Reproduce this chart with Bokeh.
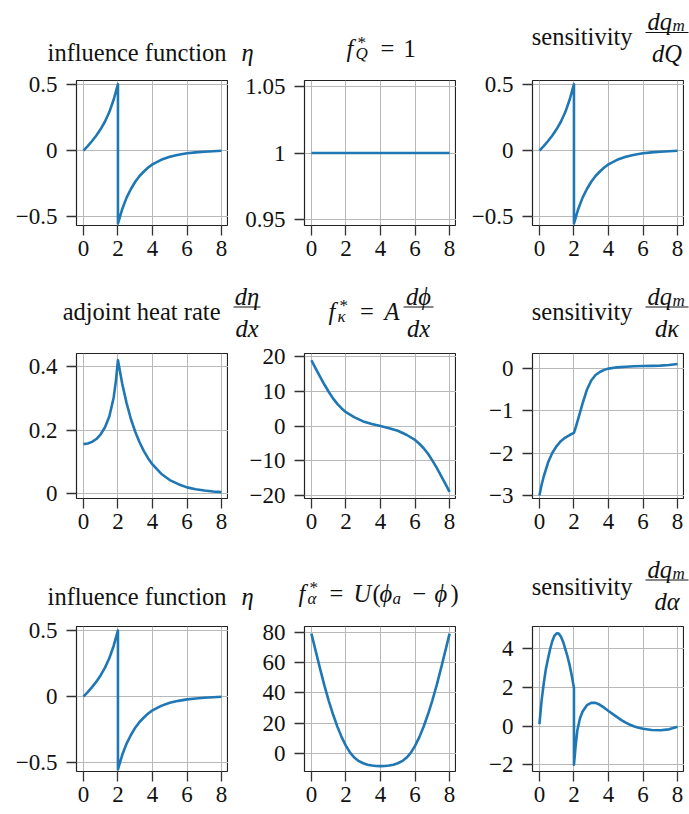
from bokeh.plotting import figure
from bokeh.layouts import column, row
from bokeh.models import Label, FixedTicker, Range1d
from bokeh.embed import file_html
from bokeh.resources import INLINE

# ---------------- data ----------------
X_TICKS = [0, 2, 4, 6, 8]
X_TICK_LABELS = ["0", "2", "4", "6", "8"]

# influence function eta (jump at the sensor position x = 2)
ETA_X = [0, 0.25, 0.5, 0.75, 1, 1.25, 1.5, 1.75, 2, 2, 2.25, 2.5, 2.75, 3,
         3.25, 3.5, 3.75, 4, 4.5, 5, 5.5, 6, 6.5, 7, 7.5, 8]
ETA_Y = [0, 0.034, 0.072, 0.113, 0.162, 0.219, 0.29, 0.383, 0.5, -0.55,
         -0.44, -0.355, -0.29, -0.235, -0.192, -0.158, -0.128, -0.104,
         -0.07, -0.047, -0.032, -0.021, -0.014, -0.009, -0.005, -0.001]
ETA_YTICKS = [-0.5, 0, 0.5]
ETA_YLABELS = ["\u22120.5", "0", "0.5"]

# source term for Q
FQ_X = [0, 8]
FQ_Y = [1, 1]
FQ_YTICKS = [0.95, 1, 1.05]
FQ_YLABELS = ["0.95", "1", "1.05"]

# adjoint heat rate d(eta)/dx
DETA_X = [0, 0.25, 0.5, 0.75, 1, 1.25, 1.5, 1.75, 1.875, 2, 2.25, 2.5, 2.75,
          3, 3.25, 3.5, 3.75, 4, 4.5, 5, 5.5, 6, 6.5, 7, 7.5, 8]
DETA_Y = [0.156, 0.158, 0.163, 0.172, 0.187, 0.209, 0.243, 0.302, 0.352,
          0.42, 0.345, 0.285, 0.235, 0.195, 0.162, 0.134, 0.111, 0.092,
          0.063, 0.043, 0.03, 0.02, 0.014, 0.01, 0.007, 0.005]
DETA_YTICKS = [0, 0.2, 0.4]
DETA_YLABELS = ["0", "0.2", "0.4"]

# source term for kappa
FK_X = [0, 0.25, 0.5, 0.75, 1, 1.25, 1.5, 1.75, 2, 2.5, 3, 3.5, 4, 4.5, 5,
        5.5, 6, 6.25, 6.5, 6.75, 7, 7.25, 7.5, 7.75, 8]
FK_Y = [19, 16.6, 14.3, 12.0, 9.9, 8.0, 6.4, 5.1, 4.0, 2.5, 1.35, 0.6, 0,
        -0.6, -1.35, -2.5, -4.0, -5.1, -6.4, -8.0, -9.9, -12.0, -14.3,
        -16.6, -19]
FK_YTICKS = [-20, -10, 0, 10, 20]
FK_YLABELS = ["\u221220", "\u221210", "0", "10", "20"]

# sensitivity with respect to kappa
DQK_X = [0, 0.125, 0.25, 0.5, 0.75, 1, 1.25, 1.5, 1.75, 2, 2.125, 2.25, 2.5,
         2.75, 3, 3.25, 3.5, 3.75, 4, 4.5, 5, 5.5, 6, 6.5, 7, 7.5, 8]
DQK_Y = [-3.0, -2.75, -2.55, -2.22, -1.99, -1.83, -1.71, -1.63, -1.57,
         -1.52, -1.36, -1.18, -0.82, -0.5, -0.28, -0.15, -0.08, -0.03, 0.0,
         0.03, 0.045, 0.055, 0.06, 0.065, 0.07, 0.085, 0.11]
DQK_YTICKS = [-3, -2, -1, 0]
DQK_YLABELS = ["\u22123", "\u22122", "\u22121", "0"]

# source term for alpha
FA_X = [0, 0.25, 0.5, 0.75, 1, 1.25, 1.5, 1.75, 2, 2.25, 2.5, 2.75, 3,
        3.25, 3.5, 3.75, 4, 4.25, 4.5, 4.75, 5, 5.25, 5.5, 5.75, 6, 6.25,
        6.5, 6.75, 7, 7.25, 7.5, 7.75, 8]
FA_Y = [79, 67.5, 56, 45, 35, 26, 18, 11, 5.2, 0.6, -2.6, -4.8, -6.2, -7.1,
        -7.65, -7.95, -8.05, -7.95, -7.65, -7.1, -6.2, -4.8, -2.6, 0.6, 5.2,
        11, 18, 26, 35, 45, 56, 67.5, 79]
FA_YTICKS = [0, 20, 40, 60, 80]
FA_YLABELS = ["0", "20", "40", "60", "80"]

# sensitivity with respect to alpha
DQA_X = [0, 0.125, 0.25, 0.375, 0.5, 0.625, 0.75, 0.875, 1, 1.125, 1.25,
         1.375, 1.5, 1.625, 1.75, 1.875, 2, 2, 2.1, 2.2, 2.35, 2.5, 2.75, 3,
         3.25, 3.5, 3.75, 4, 4.25, 4.5, 4.75, 5, 5.25, 5.5, 5.75, 6, 6.5, 7,
         7.5, 8]
DQA_Y = [0.1, 1.3, 2.2, 2.95, 3.5, 4.0, 4.4, 4.68, 4.8, 4.78, 4.62, 4.35,
         3.98, 3.6, 3.15, 2.6, 1.97, -2.0, -1.0, -0.2, 0.4, 0.75, 1.08, 1.2,
         1.2, 1.1, 0.95, 0.78, 0.62, 0.46, 0.31, 0.18, 0.07, -0.02, -0.09,
         -0.14, -0.2, -0.22, -0.17, -0.03]
DQA_YTICKS = [-2, 0, 2, 4]
DQA_YLABELS = ["\u22122", "0", "2", "4"]

# ---------------- styling ----------------
FONT = "Liberation Serif"
BLUE = "#1f77b4"
INK = "#111111"
PANEL_W = 228
FRAME_W, FRAME_H = 152, 145
BORDER_L = 76
PLOT_TOP = 12          # room above each frame for the top tick label
STRIP_H = 68           # height of the title strip above each row
X_LIMITS = (-0.4, 8.4)
TICK_SIZE = 23
MAIN = 24.5
SMALL = 17
NUM_UP = 11            # numerator baseline above a fraction bar
DEN_DOWN = 21          # denominator baseline below a fraction bar


def panel(xs, ys, y_limits, y_ticks, y_labels, bottom=48):
    p = figure(width=PANEL_W, height=PLOT_TOP + FRAME_H + bottom,
               x_range=Range1d(*X_LIMITS), y_range=Range1d(*y_limits),
               output_backend="svg", toolbar_location=None, tools="",
               min_border_left=BORDER_L, min_border_right=0,
               min_border_top=PLOT_TOP, min_border_bottom=bottom)
    p.line(xs, ys, line_color=BLUE, line_width=2.6, line_join="round")
    p.xaxis.ticker = FixedTicker(ticks=X_TICKS)
    p.xaxis.major_label_overrides = dict(zip(X_TICKS, X_TICK_LABELS))
    p.yaxis.ticker = FixedTicker(ticks=y_ticks)
    p.yaxis.major_label_overrides = dict(zip(y_ticks, y_labels))
    for ax in (p.xaxis[0], p.yaxis[0]):
        ax.axis_line_color = None
        ax.major_tick_in = 0
        ax.major_tick_out = 10
        ax.major_tick_line_color = "#333333"
        ax.major_tick_line_width = 1.3
        ax.minor_tick_line_color = None
        ax.major_label_text_font = FONT
        ax.major_label_text_font_size = f"{TICK_SIZE}px"
        ax.major_label_text_color = INK
    p.xaxis.major_label_standoff = 5
    p.yaxis.major_label_standoff = 9
    p.grid.grid_line_color = "#b8b8b8"
    p.grid.grid_line_width = 1
    p.outline_line_color = "#222222"
    p.outline_line_width = 1.2
    p.border_fill_color = "white"
    return p


def strip():
    """A blank strip holding the three panel titles of one row.
    x runs in pixels from the left edge, y in pixels above the frame tops."""
    t = figure(width=689, height=STRIP_H,
               x_range=Range1d(0, 689), y_range=Range1d(PLOT_TOP, PLOT_TOP + STRIP_H),
               output_backend="svg", toolbar_location=None, tools="",
               x_axis_location=None, y_axis_location=None,
               min_border=0, min_border_left=0, min_border_right=0,
               min_border_top=0, min_border_bottom=0)
    t.grid.visible = False
    t.outline_line_color = None
    return t


def text(t, col, s, dx, dy, size=MAIN, italic=False, align="left"):
    """Title text dx px right of the column's frame edge, baseline dy px
    above the frame top."""
    t.add_layout(Label(x=col * PANEL_W + BORDER_L + dx, y=dy, text=s,
                       text_font=FONT, text_font_size=f"{size}px",
                       text_font_style="italic" if italic else "normal",
                       text_align=align, text_baseline="alphabetic",
                       text_color=INK))


def bar(t, col, x0, x1, dy):
    left = col * PANEL_W + BORDER_L
    t.segment(x0=[left + x0], y0=[dy], x1=[left + x1], y1=[dy],
              line_color=INK, line_width=1.2)


def eta_title(t, col, base):
    text(t, col, "influence function", 150, base, align="right")
    text(t, col, "\u03b7", 165, base, italic=True)


def sens_title(t, col, base, bar_y, denom):
    text(t, col, "sensitivity", 100, base, align="right")
    bar(t, col, 113, 156, bar_y)
    text(t, col, "dq", 115, bar_y + NUM_UP, italic=True)
    text(t, col, "m", 140, bar_y + NUM_UP - 4, size=SMALL, italic=True)
    text(t, col, denom, 134.5, bar_y - DEN_DOWN, italic=True, align="center")


def f_star(t, col, dx, base, sub):
    text(t, col, "f", dx, base, italic=True)
    text(t, col, "*", dx + 11, base + 6, size=SMALL)
    text(t, col, sub, dx + 9, base - 5, size=SMALL, italic=True)


# row 1
t1 = strip()
eta_title(t1, 0, 28)
f_star(t1, 1, 42, 32, "Q")
text(t1, 1, "=", 83, 32, align="center")
text(t1, 1, "1", 105, 32, align="center")
sens_title(t1, 2, 44, 48, "dQ")

p11 = panel(ETA_X, ETA_Y, (-0.565, 0.528), ETA_YTICKS, ETA_YLABELS)
p12 = panel(FQ_X, FQ_Y, (0.9455, 1.0545), FQ_YTICKS, FQ_YLABELS)
p13 = panel(ETA_X, ETA_Y, (-0.565, 0.528), ETA_YTICKS, ETA_YLABELS)

# row 2
t2 = strip()
text(t2, 0, "adjoint heat rate", 144, 42, align="right")
bar(t2, 0, 157, 184, 46.5)
text(t2, 0, "d\u03b7", 170.5, 46.5 + NUM_UP, italic=True, align="center")
text(t2, 0, "dx", 170.5, 46.5 - DEN_DOWN, italic=True, align="center")
f_star(t2, 1, 24, 42.5, "\u03ba")
text(t2, 1, "=", 62.5, 42.5, align="center")
text(t2, 1, "A", 80, 42.5, italic=True)
bar(t2, 1, 99, 129, 46.5)
text(t2, 1, "d\u03d5", 114, 46.5 + NUM_UP, italic=True, align="center")
text(t2, 1, "dx", 114, 46.5 - DEN_DOWN, italic=True, align="center")
sens_title(t2, 2, 42, 46.5, "d\u03ba")

p21 = panel(DETA_X, DETA_Y, (-0.015, 0.441), DETA_YTICKS, DETA_YLABELS)
p22 = panel(FK_X, FK_Y, (-20.9, 20.95), FK_YTICKS, FK_YLABELS)
p23 = panel(DQK_X, DQK_Y, (-3.07, 0.357), DQK_YTICKS, DQK_YLABELS)

# row 3
t3 = strip()
eta_title(t3, 0, 30)
f_star(t3, 1, -6, 33.5, "\u03b1")
text(t3, 1, "=", 32, 33.5, align="center")
text(t3, 1, "U", 49, 33.5, italic=True)
text(t3, 1, "(", 68, 33.5)
text(t3, 1, "\u03d5", 75, 33.5, italic=True)
text(t3, 1, "a", 88, 28.5, size=SMALL, italic=True)
text(t3, 1, "\u2212", 115, 33.5, align="center")
text(t3, 1, "\u03d5", 130, 33.5, italic=True)
text(t3, 1, ")", 146, 33.5)
sens_title(t3, 2, 40, 46.5, "d\u03b1")

p31 = panel(ETA_X, ETA_Y, (-0.566, 0.53), ETA_YTICKS, ETA_YLABELS, bottom=43)
p32 = panel(FA_X, FA_Y, (-11.6, 83.7), FA_YTICKS, FA_YLABELS, bottom=43)
p33 = panel(DQA_X, DQA_Y, (-2.35, 5.15), DQA_YTICKS, DQA_YLABELS, bottom=43)

page = column(t1, row(p11, p12, p13), t2, row(p21, p22, p23),
              t3, row(p31, p32, p33))

open("out.html", "w").write(file_html(page, INLINE))
